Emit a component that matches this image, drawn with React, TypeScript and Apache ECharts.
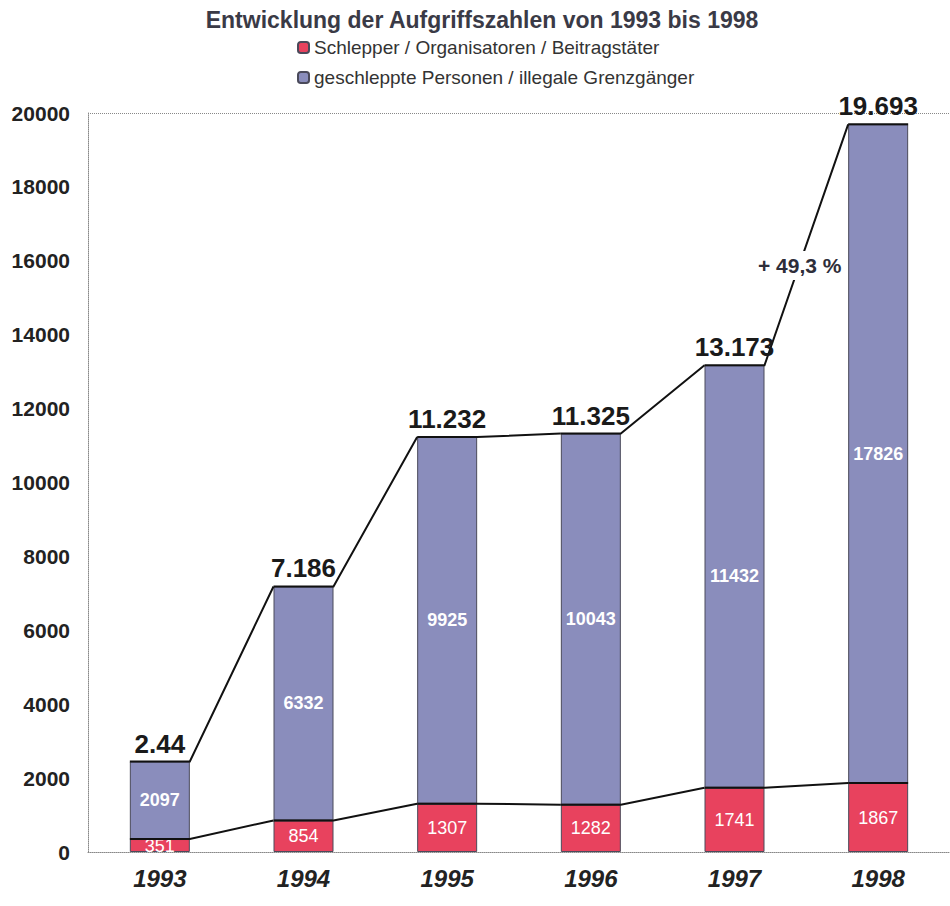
import React, { useEffect, useRef } from "react";
import * as echarts from "echarts";

const years = ["1993", "1994", "1995", "1996", "1997", "1998"];
const schlepper = [351, 854, 1307, 1282, 1741, 1867];
const geschleppte = [2097, 6332, 9925, 10043, 11432, 17826];
const totalLabels = ["2.44", "7.186", "11.232", "11.325", "13.173", "19.693"];
const yTicks = [0, 2000, 4000, 6000, 8000, 10000, 12000, 14000, 16000, 18000, 20000];
const seriesNames = [
  "Schlepper / Organisatoren / Beitragstäter",
  "geschleppte Personen / illegale Grenzgänger",
];
const titleText = "Entwicklung der Aufgriffszahlen von 1993 bis 1998";
const growthText = "+ 49,3 %";

const BAR_W = 60;
const FONT = "Liberation Sans, Arial, sans-serif";

export default function App() {
  const ref = useRef<HTMLDivElement>(null);
  useEffect(() => {
    if (!ref.current) return;
    const chart = echarts.init(ref.current, null, { renderer: "svg" });
    const totals = schlepper.map((v, i) => v + geschleppte[i]);
    const lineData = (vals: number[]) =>
      vals.map((v, i) => [i, v, i < vals.length - 1 ? vals[i + 1] : v]);

    const makeLine = (vals: number[], withText: boolean) => ({
      type: "custom",
      silent: true,
      z: 5,
      data: lineData(vals),
      renderItem: (params: any, api: any) => {
        const i = api.value(0);
        const p0 = api.coord([i, api.value(1)]);
        const children: any[] = [];
        const pts: number[][] = [
          [p0[0] - BAR_W / 2, p0[1]],
          [p0[0] + BAR_W / 2, p0[1]],
        ];
        if (i < years.length - 1) {
          const p1 = api.coord([i + 1, api.value(2)]);
          pts.push([p1[0] - BAR_W / 2, p1[1]]);
        }
        children.push({
          type: "polyline",
          shape: { points: pts },
          style: { stroke: "#111", lineWidth: 2, fill: null },
        });
        if (withText) {
          children.push({
            type: "text",
            x: p0[0],
            y: p0[1] - 5,
            style: {
              text: totalLabels[i],
              align: "center",
              verticalAlign: "bottom",
              fontFamily: FONT,
              fontWeight: "bold",
              fontSize: 26,
              fill: "#1a1a1a",
            },
          });
        }
        return { type: "group", children };
      },
    });

    chart.setOption({
      animation: false,
      backgroundColor: "#ffffff",
      title: {
        text: titleText,
        left: 477,
        textAlign: "center",
        top: 3,
        textStyle: {
          fontFamily: FONT,
          fontWeight: "bold",
          fontSize: 23,
          color: "#3a3a46",
        },
      },
      legend: {
        orient: "vertical",
        left: 292,
        top: 33,
        itemWidth: 11,
        itemHeight: 11,
        itemGap: 11,
        data: seriesNames,
        textStyle: {
          fontFamily: FONT,
          fontSize: 19,
          color: "#333",
        },
      },
      grid: { left: 88, top: 113, width: 864, height: 739, containLabel: false },
      xAxis: {
        type: "category",
        data: years,
        axisTick: { show: false },
        axisLine: { lineStyle: { color: "#888", type: "dotted", width: 1 } },
        axisLabel: {
          margin: 14,
          fontFamily: FONT,
          fontStyle: "italic",
          fontWeight: "bold",
          fontSize: 24,
          color: "#222",
        },
      },
      yAxis: {
        type: "value",
        min: 0,
        max: 20000,
        interval: 2000,
        axisLine: { show: true, lineStyle: { color: "#888", type: "dotted", width: 1 } },
        axisTick: { show: false },
        splitLine: {
          show: true,
          lineStyle: {
            type: "dotted",
            color: yTicks.map((t) => (t === 20000 ? "#888" : "rgba(0,0,0,0)")),
          },
        },
        axisLabel: {
          margin: 18,
          formatter: (v: number) => String(v),
          fontFamily: FONT,
          fontWeight: "bold",
          fontSize: 21,
          color: "#222",
        },
      },
      series: [
        {
          name: seriesNames[0],
          type: "bar",
          stack: "total",
          barWidth: BAR_W,
          data: schlepper,
          itemStyle: { color: "#e8425e", borderColor: "#4a4a5a", borderWidth: 1 },
          label: {
            show: true,
            position: "inside",
            color: "#fff",
            fontFamily: FONT,
            fontSize: 18,
          },
        },
        {
          name: seriesNames[1],
          type: "bar",
          stack: "total",
          barWidth: BAR_W,
          data: geschleppte,
          itemStyle: { color: "#8a8dbc", borderColor: "#4a4a5a", borderWidth: 1 },
          label: {
            show: true,
            position: "inside",
            color: "#fff",
            fontFamily: FONT,
            fontWeight: "bold",
            fontSize: 18,
          },
        },
        makeLine(totals, true),
        makeLine(schlepper, false),
      ],
      graphic: [
        {
          type: "text",
          left: 756,
          top: 251,
          z: 100,
          style: {
            text: growthText,
            fontFamily: FONT,
            fontWeight: "bold",
            fontSize: 21,
            fill: "#2e2e3a",
            backgroundColor: "#ffffff",
            padding: [4, 2],
          },
        },
      ],
    });
    return () => chart.dispose();
  }, []);
  return (
    <div
      ref={ref}
      style={{ position: "fixed", left: 0, top: 0, width: 950, height: 906 }}
    />
  );
}
